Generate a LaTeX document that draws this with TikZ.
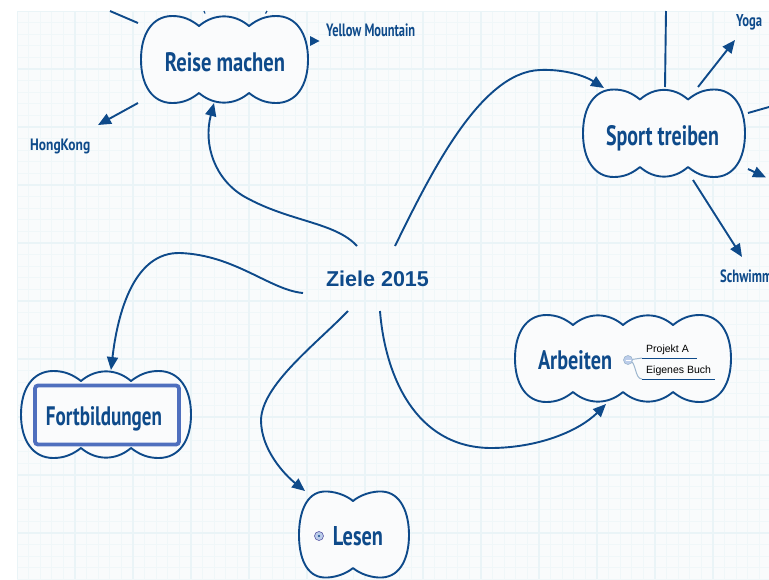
\documentclass[tikz,border=0pt]{standalone}
\usepackage{fontspec}
\usepackage{graphicx}
\setmainfont{Liberation Sans}
\newfontfamily\handfont{PT Sans}
\usetikzlibrary{arrows.meta}
\definecolor{ink}{HTML}{0E4A8A}
\definecolor{gridminor}{HTML}{F0F7F9}
\definecolor{gridmajor}{HTML}{EAF4F7}
\definecolor{paper}{HTML}{F9FBFC}
\definecolor{inner}{HTML}{FAFBFC}
\definecolor{selbox}{HTML}{4F6FBE}
\definecolor{knob}{HTML}{BCCDEA}
\definecolor{branch}{HTML}{9DB6CE}
\newcommand\handtext[3]{\resizebox{#1pt}{#2pt}{\handfont\bfseries #3}}
\newcommand\handthin[3]{\resizebox{#1pt}{#2pt}{\handfont #3}}
\tikzset{
  cloudline/.style={draw=ink,line width=1.9pt,fill=inner,line join=round},
  link/.style={draw=ink,line width=1.9pt},
  arrowlink/.style={link,-{Triangle[length=13pt,width=11pt]}},
  handlabel/.style={text=ink,inner sep=0pt},
  smalltext/.style={text=black,inner sep=0pt,font=\fontsize{10.5}{12}\selectfont},
  branchline/.style={draw=branch,line width=1pt},
  underline/.style={draw=ink,line width=1pt},
  knobdot/.style={draw=branch,fill=knob,line width=.6pt,circle,inner sep=0pt,minimum size=9pt},
}
% #1 l #2 t #3 r #4 b #5 notch depth #6 first notch #7 last notch ; lobes in \toplist and \botlist
\newcommand\fullcloud[7]{%
  \pgfmathsetmacro\wl{#6-#1}\pgfmathsetmacro\wr{#3-#7}\pgfmathsetmacro\hh{#4-#2}%
  \draw[cloudline] (#6,#2+#5)
    \foreach \a/\b in \toplist { .. controls (\a+0.30*\b-0.30*\a,#2-#5/3+0.5) and (\b-0.30*\b+0.30*\a,#2-#5/3+0.5) .. (\b,#2+#5) }
    .. controls (#7+0.14*\wr,#2+0.35*#5) and (#7+0.28*\wr,#2) .. (#7+0.46*\wr,#2)
    .. controls (#3-0.20*\wr,#2) and (#3,#2+0.20*\hh) .. (#3,#2+0.5*\hh)
    .. controls (#3,#4-0.20*\hh) and (#3-0.20*\wr,#4) .. (#7+0.46*\wr,#4)
    .. controls (#7+0.28*\wr,#4) and (#7+0.14*\wr,#4-0.35*#5) .. (#7,#4-#5)
    \foreach \a/\b in \botlist { .. controls (\a+0.30*\b-0.30*\a,#4+#5/3-0.5) and (\b-0.30*\b+0.30*\a,#4+#5/3-0.5) .. (\b,#4-#5) }
    .. controls (#6-0.14*\wl,#4-0.35*#5) and (#6-0.28*\wl,#4) .. (#6-0.46*\wl,#4)
    .. controls (#1+0.20*\wl,#4) and (#1,#4-0.20*\hh) .. (#1,#2+0.5*\hh)
    .. controls (#1,#2+0.20*\hh) and (#1+0.20*\wl,#2) .. (#6-0.46*\wl,#2)
    .. controls (#6-0.28*\wl,#2) and (#6-0.14*\wl,#2+0.35*#5) .. (#6,#2+#5) -- cycle;%
}
\begin{document}
\begin{tikzpicture}[x=1pt,y=-1pt]
\useasboundingbox (0,0) rectangle (769,579);
\fill[white] (0,0) rectangle (769,579);
\fill[paper] (17,11) rectangle (769,579);
\begin{scope}
\clip (17,11) rectangle (769,579);
\foreach \i in {0,...,66} {
  \draw[gridminor,line width=.8pt] (17+11.6*\i,11) -- (17+11.6*\i,579);
}
\foreach \i in {0,...,49} {
  \draw[gridminor,line width=.8pt] (17,11+11.6*\i) -- (769,11+11.6*\i);
}
\foreach \i in {0,5,...,65} {
  \draw[gridmajor,line width=1.4pt] (17+11.6*\i,11) -- (17+11.6*\i,579);
}
\foreach \i in {0,5,...,45} {
  \draw[gridmajor,line width=1.4pt] (17,11+11.6*\i) -- (769,11+11.6*\i);
}
\end{scope}
% clouds
\def\toplist{199/249}\def\botlist{249/199}
\fullcloud{141}{16}{308}{103}{10}{199}{249}
\def\toplist{640/688}\def\botlist{688/640}
\fullcloud{583}{89.5}{745}{177}{10}{640}{688}
\def\toplist{573/623,623/673}\def\botlist{673/623,623/573}
\fullcloud{515}{315}{731}{402}{10}{573}{673}
\def\toplist{81/131}\def\botlist{131/81}
\fullcloud{21}{371}{191}{458}{10}{81}{131}
\draw[cloudline] (353,501)
  .. controls (360,495) and (372,491) .. (382,491.5)
  .. controls (401,492.5) and (409,513) .. (409,535)
  .. controls (409,557) and (401,576.5) .. (382,577.5)
  .. controls (372,578) and (360,574) .. (353,568)
  .. controls (346,574) and (334,578) .. (324,577.5)
  .. controls (306,576.5) and (299,557) .. (299,535)
  .. controls (299,513) and (306,492.5) .. (324,491.5)
  .. controls (334,491) and (346,495) .. (353,501) -- cycle;
\node[draw=selbox,line width=3.8pt,rounded corners=3pt,minimum width=144pt,minimum height=59pt,inner sep=0pt] (fortbox) at (107,415) {};
% texts
\node[anchor=base,text=ink,inner sep=0pt,font=\bfseries\fontsize{21.5}{24}\selectfont] (ziele) at (377.5,286) {Ziele 2015};
\node[handlabel,anchor=base] (reise) at (225,71) {\handtext{120}{19}{Reise machen}};
\node[handlabel,anchor=base] (sport) at (662.5,145) {\handtext{113}{20}{Sport treiben}};
\node[handlabel,anchor=base] (arbeiten) at (575,369) {\handtext{74}{19}{Arbeiten}};
\node[handlabel,anchor=base] (fort) at (104,425) {\handtext{116}{19}{Fortbildungen}};
\node[handlabel,anchor=base] (lesen) at (358,545) {\handtext{50}{19}{Lesen}};
\node[handlabel,anchor=base west] (yellow) at (326,36.7) {\handtext{89}{12.7}{Yellow Mountain}};
\node[handlabel,anchor=base west] (hongkong) at (30,150.7) {\handtext{60}{11.5}{HongKong}};
\node[handlabel,anchor=base west] (yoga) at (736,26.7) {\handtext{26}{12}{Yoga}};
\node[handlabel,anchor=base west] (schwimm) at (720,282.7) {\handtext{52}{12.7}{Schwimm}};
\node[smalltext,anchor=base west] (projekt) at (646,352) {Projekt A};
\node[smalltext,anchor=base west] (buch) at (646,373) {Eigenes Buch};
% free connector ends
\coordinate (z1) at (357,246);
\coordinate (z2) at (395,246);
\coordinate (z3) at (303,293);
\coordinate (z4) at (348,311);
\coordinate (z5) at (380,311);
\coordinate (reiseIn) at (214,103);
\coordinate (sportIn) at (604,88);
\coordinate (fortIn) at (111,370);
\coordinate (lesenIn) at (305,491);
\coordinate (arbIn) at (606,404);
% main curves
\draw[arrowlink] (z1) .. controls (335,222) and (290,222) .. (245,197) .. controls (215,180) and (203,145) .. (reiseIn);
\draw[arrowlink] (z2) .. controls (430,175) and (480,72) .. (540,70) .. controls (565,69) and (585,76) .. (sportIn);
\draw[arrowlink] (z3) .. controls (270,290) and (235,255) .. (180,253) .. controls (135,252) and (118,310) .. (fortIn);
\draw[arrowlink] (z4) .. controls (315,345) and (262,385) .. (261,420) .. controls (261,450) and (285,475) .. (lesenIn);
\draw[arrowlink] (z5) .. controls (385,375) and (415,447) .. (490,448) .. controls (540,448) and (580,430) .. (arbIn);
% straight stubs
\coordinate (hkS) at (138,103); \coordinate (hkE) at (98,125);
\coordinate (yoS) at (698,87); \coordinate (yoE) at (735,40);
\coordinate (swS) at (693,180); \coordinate (swE) at (742,257);
\coordinate (rlS) at (748,169); \coordinate (rlE) at (766,177.5);
\coordinate (ruS) at (748,113); \coordinate (ruE) at (769,107);
\coordinate (tlS) at (138,23); \coordinate (tlE) at (110,11);
\coordinate (ttS) at (665,87); \coordinate (ttE) at (666,11);
\coordinate (t1S) at (205,13.5); \coordinate (t1E) at (204,11);
\coordinate (t2S) at (265.5,13.5); \coordinate (t2E) at (267,11);
\draw[arrowlink] (hkS) -- (hkE);
\draw[arrowlink] (yoS) -- (yoE);
\draw[arrowlink] (swS) -- (swE);
\draw[arrowlink] (rlS) -- (rlE);
\fill[ink] (310,36) -- (319.5,41) -- (310,46) -- cycle;
\draw[link] (ruS) -- (ruE);
\draw[link] (tlS) -- (tlE);
\draw[link] (ttS) -- (ttE);
\draw[link,line width=1.2pt] (t1S) -- (t1E);
\draw[link,line width=1.2pt] (t2S) -- (t2E);
% Arbeiten branches
\coordinate (ka) at (628,360);
\coordinate (pa) at (642,358); \coordinate (pb) at (697,358);
\coordinate (ba) at (642,379); \coordinate (bb) at (715,379);
\draw[branchline] (ka) -- (pa);
\draw[branchline] (ka) .. controls (637,360) and (634,379) .. (ba);
\draw[underline] (pa) -- (pb);
\draw[underline] (ba) -- (bb);
\node[knobdot] (knobA) at (ka) {};
\draw[white,line width=.8pt] (625.5,360) -- (630.5,360);
\node[knobdot,draw=gray!70!blue] (knobL) at (319,536) {};
\fill[ink] (knobL) circle (1.2pt);
\end{tikzpicture}
\end{document}
